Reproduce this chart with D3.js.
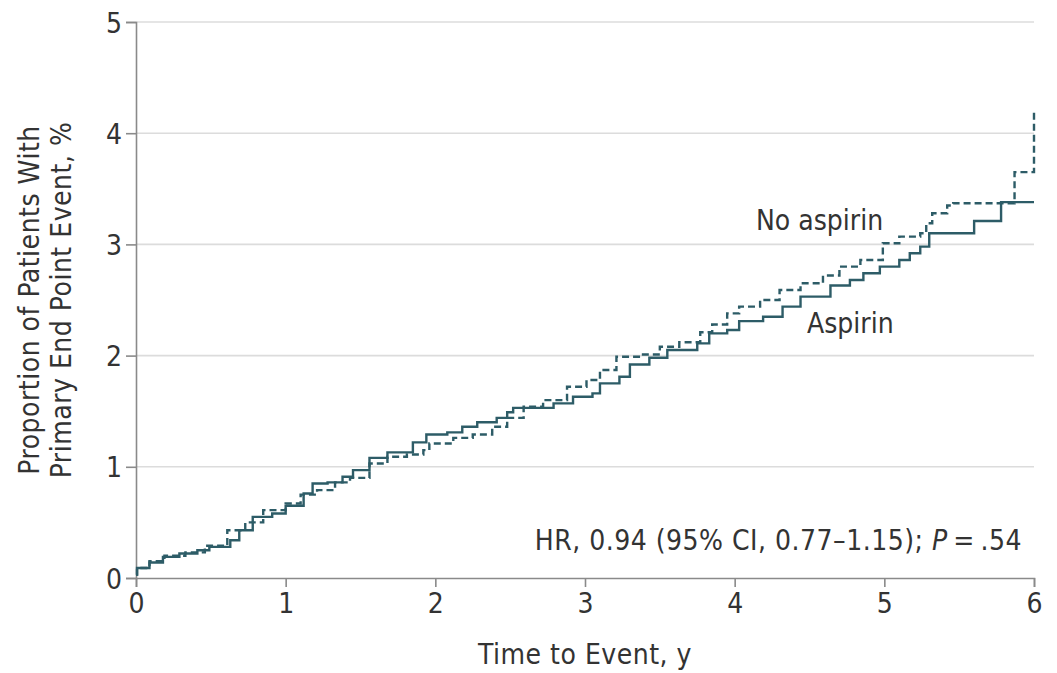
<!DOCTYPE html>
<html>
<head>
<meta charset="utf-8">
<script src="https://cdn.jsdelivr.net/npm/d3@7"></script>
<style>
  html, body { margin: 0; padding: 0; background: #fff; }
  svg text { font-family: "Liberation Sans Narrow", "DejaVu Sans Condensed", "Roboto Condensed", sans-serif; fill: #333; }
</style>
</head>
<body>
<svg id="chart" width="1057" height="673"></svg>
<script>
// ---- Data ----
const xTicks = [0, 1, 2, 3, 4, 5, 6];
const yTicks = [0, 1, 2, 3, 4, 5];

// Aspirin (solid) cumulative incidence, % : [time (y), value]
const aspirinTime = [0, 0.007, 0.09, 0.18, 0.29, 0.41, 0.49, 0.63, 0.69, 0.78, 0.91, 1.0, 1.12, 1.18, 1.28, 1.38, 1.45, 1.56, 1.68, 1.85, 1.94, 2.08, 2.18, 2.28, 2.41, 2.48, 2.52, 2.79, 2.92, 3.05, 3.10, 3.23, 3.30, 3.43, 3.55, 3.75, 3.83, 3.95, 4.03, 4.19, 4.32, 4.44, 4.64, 4.77, 4.86, 4.97, 5.10, 5.17, 5.24, 5.30, 5.60, 5.78, 6.0];
const aspirinValue = [0.03, 0.09, 0.14, 0.19, 0.22, 0.25, 0.28, 0.34, 0.43, 0.55, 0.58, 0.65, 0.76, 0.85, 0.86, 0.91, 0.97, 1.08, 1.13, 1.22, 1.29, 1.31, 1.36, 1.40, 1.44, 1.49, 1.53, 1.57, 1.63, 1.66, 1.75, 1.81, 1.92, 1.98, 2.05, 2.11, 2.20, 2.23, 2.31, 2.35, 2.44, 2.53, 2.63, 2.68, 2.74, 2.80, 2.86, 2.92, 2.98, 3.10, 3.21, 3.38, 3.38];

// No aspirin (dashed)
const noAspirinTime = [0, 0.007, 0.09, 0.19, 0.33, 0.46, 0.61, 0.73, 0.85, 1.0, 1.10, 1.21, 1.33, 1.43, 1.56, 1.68, 1.81, 1.92, 1.96, 2.12, 2.25, 2.38, 2.48, 2.59, 2.72, 2.88, 3.01, 3.10, 3.21, 3.37, 3.50, 3.63, 3.77, 3.85, 3.95, 4.03, 4.17, 4.30, 4.44, 4.59, 4.70, 4.84, 4.99, 5.10, 5.24, 5.28, 5.32, 5.42, 5.46, 5.87, 6.0];
const noAspirinValue = [0.03, 0.09, 0.15, 0.20, 0.23, 0.29, 0.43, 0.50, 0.61, 0.67, 0.75, 0.79, 0.86, 0.90, 1.03, 1.09, 1.11, 1.15, 1.21, 1.26, 1.29, 1.36, 1.44, 1.54, 1.60, 1.72, 1.78, 1.87, 1.99, 2.01, 2.08, 2.12, 2.21, 2.28, 2.38, 2.44, 2.50, 2.59, 2.65, 2.72, 2.80, 2.86, 3.01, 3.07, 3.10, 3.19, 3.28, 3.35, 3.37, 3.65, 4.21];

const seriesNames = ["Aspirin", "No aspirin"];
const xTitle = "Time to Event, y";
const yTitleLines = ["Proportion of Patients With", "Primary End Point Event, %"];

// ---- Drawing ----
const svg = d3.select("#chart");
const margin = { left: 136, right: 1057 - 1034, top: 22, bottom: 673 - 578 };
const W = 1057, H = 673;
const x = d3.scaleLinear().domain([0, 6]).range([margin.left, W - margin.right]);
const y = d3.scaleLinear().domain([0, 5]).range([H - margin.bottom, margin.top]);
const color = "#2d5c67";
const fs = 28;
const ls = "0.5px";

// gridlines
svg.append("g")
  .selectAll("line")
  .data(yTicks.filter(d => d > 0))
  .join("line")
  .attr("x1", x(0)).attr("x2", x(6))
  .attr("y1", d => y(d)).attr("y2", d => y(d))
  .attr("stroke", "#dcdcdc").attr("stroke-width", 1.6);

// axes
const xAxis = svg.append("g")
  .attr("transform", `translate(0,${y(0)})`)
  .call(d3.axisBottom(x).tickValues(xTicks).tickFormat(d3.format("d")).tickSize(9).tickPadding(6));
const yAxis = svg.append("g")
  .attr("transform", `translate(${x(0)},0)`)
  .call(d3.axisLeft(y).tickValues(yTicks).tickFormat(d3.format("d")).tickSize(10).tickPadding(4));
[xAxis, yAxis].forEach(g => {
  g.select(".domain").attr("stroke", "#8a8a8a").attr("stroke-width", 1.6);
  g.selectAll(".tick line").attr("stroke", "#8a8a8a").attr("stroke-width", 1.6);
  g.selectAll(".tick text").attr("font-size", fs).style("fill", "#333")
    .attr("font-family", "\"Liberation Sans Narrow\", \"DejaVu Sans Condensed\", sans-serif");
});
yAxis.selectAll(".tick text").attr("dy", "0.36em");

// curves
const line = d3.line().x(d => x(d[0])).y(d => y(d[1])).curve(d3.curveStepAfter);
const aspirin = aspirinTime.map((t, i) => [t, aspirinValue[i]]);
const noAspirin = noAspirinTime.map((t, i) => [t, noAspirinValue[i]]);

svg.append("path").datum(noAspirin)
  .attr("d", line).attr("fill", "none").attr("stroke", color)
  .attr("stroke-width", 2.4).attr("stroke-dasharray", "7,4");
svg.append("path").datum(aspirin)
  .attr("d", line).attr("fill", "none").attr("stroke", color)
  .attr("stroke-width", 2.4);

// series labels
svg.append("text").attr("x", 756).attr("y", 230)
  .attr("font-size", fs).text(seriesNames[1]);
svg.append("text").attr("x", 807).attr("y", 333)
  .attr("font-size", fs).text(seriesNames[0]);

// HR annotation
const hr = svg.append("text").attr("x", 1022).attr("y", 550)
  .attr("text-anchor", "end").attr("font-size", fs).style("letter-spacing", ls);
hr.append("tspan").text("HR, 0.94 (95% CI, 0.77\u20131.15); ");
hr.append("tspan").attr("font-style", "italic").text("P");
hr.append("tspan").text("\u2009=\u2009.54");

// axis titles
svg.append("text").attr("x", 585).attr("y", 664)
  .attr("text-anchor", "middle").attr("font-size", fs).style("letter-spacing", ls).text(xTitle);
const yt = svg.append("text")
  .attr("transform", `translate(39,${(y(0) + y(5)) / 2}) rotate(-90)`)
  .attr("text-anchor", "middle").attr("font-size", fs).style("letter-spacing", ls);
yt.append("tspan").attr("x", 0).attr("dy", 0).text(yTitleLines[0]);
yt.append("tspan").attr("x", 0).attr("dy", 32).text(yTitleLines[1]);
</script>
</body>
</html>
